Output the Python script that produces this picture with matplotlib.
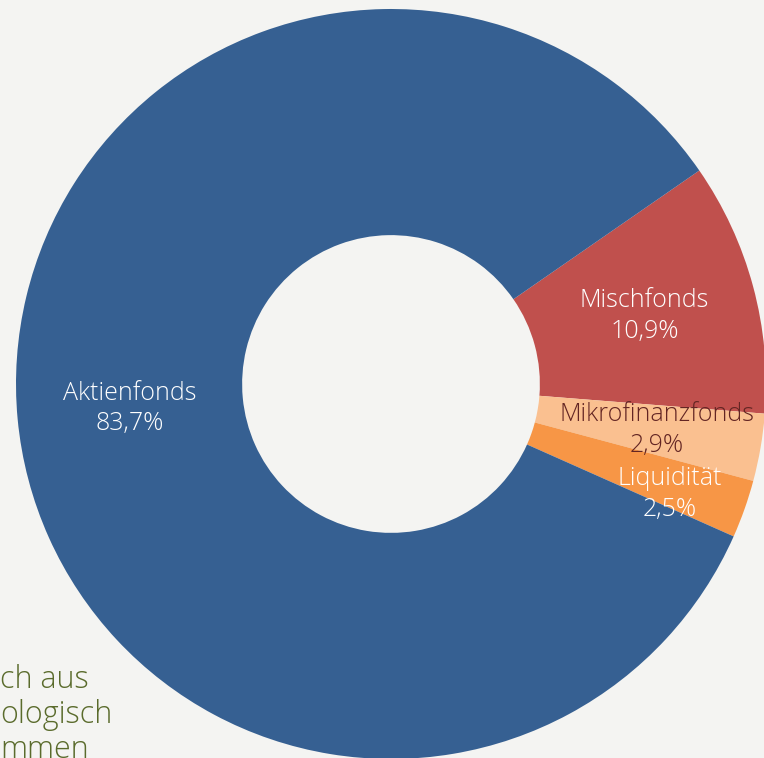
import numpy as np
import matplotlib
matplotlib.use("Agg")
import matplotlib.pyplot as plt

# portfolio split
categories = ["Mischfonds", "Mikrofinanzfonds", "Liquidität", "Aktienfonds"]
shares = [10.9, 2.9, 2.5, 83.7]
share_labels = ["10,9%", "2,9%", "2,5%", "83,7%"]
colors = ["#C0504D", "#FAC090", "#F79646", "#366092"]
text_colors = ["white", "#632523", "white", "white"]

# label placement (fraction of outer radius, angle nudge in degrees)
label_radius = [0.70, 0.72, 0.80, 0.70]
label_nudge = [0.0, 0.0, -2.0, 0.0]

BG = "#F4F4F2"
W, H = 764, 758
CENTER = (391, H - 384)
RADIUS = 375
START = 34.7

fig = plt.figure(figsize=(W / 100, H / 100), dpi=100)
fig.patch.set_facecolor(BG)
ax = fig.add_axes([0, 0, 1, 1])
ax.set_facecolor(BG)

wedges, _ = ax.pie(shares, colors=colors, startangle=START, counterclock=False,
                   radius=RADIUS, center=CENTER,
                   wedgeprops=dict(width=RADIUS * 0.603, linewidth=0))

for w, name, pct, tc, rf, nd in zip(wedges, categories, share_labels, text_colors,
                                    label_radius, label_nudge):
    mid = np.deg2rad((w.theta1 + w.theta2) / 2 + nd)
    x = CENTER[0] + RADIUS * rf * np.cos(mid)
    y = CENTER[1] + RADIUS * rf * np.sin(mid)
    ax.text(x, y, f"{name}\n{pct}", ha="center", va="center", color=tc,
            fontsize=18, family="Open Sans", fontweight="light",
            linespacing=1.3, zorder=5)

# background text from the page behind the chart
for txt, yb in zip(["ch aus", "ologisch", "mmen"], [688, 723, 758]):
    ax.text(0, H - yb, txt, ha="left", va="baseline", color="#5A6B2C",
            fontsize=22, family="Open Sans", fontweight="light", zorder=0)

ax.set_xlim(0, W)
ax.set_ylim(0, H)
ax.set_aspect("equal")
ax.axis("off")

fig.savefig("out.png", dpi=100, facecolor=BG)
